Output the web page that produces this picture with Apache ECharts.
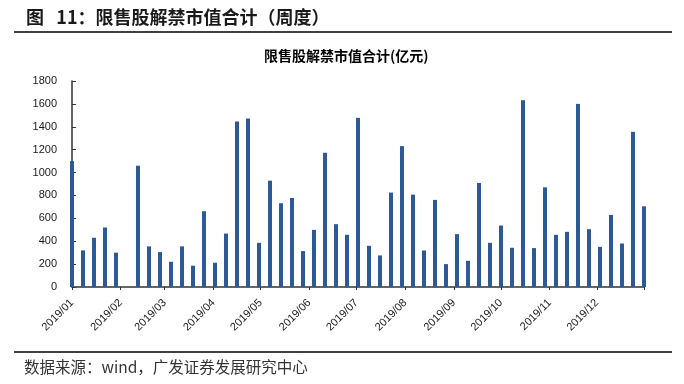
<!DOCTYPE html>
<html>
<head>
<meta charset="utf-8">
<script src="https://cdn.jsdelivr.net/npm/echarts@6/dist/echarts.min.js"></script>
<style>
html,body{margin:0;padding:0;background:#fff;}
#c{width:684px;height:384px;}
</style>
</head>
<body>
<div id="c"></div>
<script>
// Weekly dates (Tuesdays of 2019)
var weekDates = [
  '2019-01-01','2019-01-08','2019-01-15','2019-01-22','2019-01-29',
  '2019-02-05','2019-02-12','2019-02-19','2019-02-26',
  '2019-03-05','2019-03-12','2019-03-19','2019-03-26',
  '2019-04-02','2019-04-09','2019-04-16','2019-04-23','2019-04-30',
  '2019-05-07','2019-05-14','2019-05-21','2019-05-28',
  '2019-06-04','2019-06-11','2019-06-18','2019-06-25',
  '2019-07-02','2019-07-09','2019-07-16','2019-07-23','2019-07-30',
  '2019-08-06','2019-08-13','2019-08-20','2019-08-27',
  '2019-09-03','2019-09-10','2019-09-17','2019-09-24',
  '2019-10-01','2019-10-08','2019-10-15','2019-10-22','2019-10-29',
  '2019-11-05','2019-11-12','2019-11-19','2019-11-26',
  '2019-12-03','2019-12-10','2019-12-17','2019-12-24','2019-12-31'
];
// 限售股解禁市值合计 (亿元)
var unlockValues = [
  1100, 320, 430, 520, 300,
  0, 1060, 355, 305,
  220, 355, 186, 662,
  212, 467, 1446, 1472, 386,
  929, 732, 778, 314,
  499, 1173, 549, 456,
  1478, 360, 276, 825, 1231,
  807, 319, 761, 200,
  462, 229, 909, 386,
  537, 343, 1632, 340, 871,
  456, 482, 1600, 505,
  351, 630, 380, 1356, 705
];
// Month tick dates and labels
var monthTickDates = ['2019-01-01','2019-02-01','2019-03-01','2019-04-01','2019-05-01','2019-06-01',
  '2019-07-01','2019-08-01','2019-09-01','2019-10-01','2019-11-01','2019-12-01'];
var monthLabels = ['2019/01','2019/02','2019/03','2019/04','2019/05','2019/06',
  '2019/07','2019/08','2019/09','2019/10','2019/11','2019/12'];
var axisStart = '2019-01-01';
var axisEnd = '2019-12-31';
var yTicks = [0, 1800, 200]; // min, max, interval

function dayIndex(s) {
  var p = s.split('-');
  return Math.round((Date.UTC(+p[0], +p[1] - 1, +p[2]) - Date.UTC(2019, 0, 1)) / 86400000);
}
var seriesData = weekDates.map(function (d, i) { return [dayIndex(d), unlockValues[i]]; });
var monthTicks = monthTickDates.map(dayIndex);
var labelMap = {};
monthTicks.forEach(function (v, i) { labelMap[v] = monthLabels[i]; });

var chart = echarts.init(document.getElementById('c'), null, {renderer: 'canvas'});
var cjk = '"Noto Sans CJK SC", sans-serif';
var latin = '"Liberation Sans", Arial, sans-serif';
chart.setOption({
  animation: false,
  backgroundColor: '#ffffff',
  grid: {left: 72, right: 40, top: 81, bottom: 97, containLabel: false},
  graphic: [
    {type: 'text', left: 26, top: 8, style: {text: '图   11：限售股解禁市值合计（周度）', font: 'bold 18px ' + cjk, fill: '#1a1a1a'}},
    {type: 'line', shape: {x1: 14, y1: 32, x2: 672, y2: 32}, style: {stroke: '#000', lineWidth: 1.3}},
    {type: 'text', left: 264, top: 49, style: {text: '限售股解禁市值合计(亿元)', font: 'bold 14px ' + cjk, fill: '#000'}},
    {type: 'line', shape: {x1: 14, y1: 352, x2: 672, y2: 352}, style: {stroke: '#000', lineWidth: 1.3}},
    {type: 'text', left: 24, top: 359, style: {text: '数据来源：wind，广发证券发展研究中心', font: '15.5px ' + cjk, fill: '#333'}}
  ],
  xAxis: {
    type: 'value',
    min: dayIndex(axisStart),
    max: dayIndex(axisEnd),
    splitLine: {show: false},
    axisLine: {show: true, lineStyle: {color: '#333', width: 1.5}},
    axisTick: {show: true, length: 3, inside: false, customValues: monthTicks.concat([dayIndex(axisEnd)]), lineStyle: {color: '#333'}},
    axisLabel: {
      customValues: monthTicks,
      rotate: 45,
      margin: 14,
      color: '#1a1a1a',
      fontSize: 11,
      fontFamily: latin,
      formatter: function (v) { return labelMap[v] || ''; }
    }
  },
  yAxis: {
    type: 'value',
    min: yTicks[0],
    max: yTicks[1],
    interval: yTicks[2],
    splitLine: {show: false},
    axisLine: {show: true, lineStyle: {color: '#333', width: 1.5}},
    axisTick: {show: true, inside: true, length: 4, lineStyle: {color: '#333'}},
    axisLabel: {color: '#1a1a1a', fontSize: 11, margin: 15, fontFamily: latin,
      formatter: function (v) { return String(v); }}
  },
  series: [{
    type: 'bar',
    data: seriesData,
    barWidth: 4,
    clip: false,
    itemStyle: {color: '#2D5A97'}
  }]
});
</script>
</body>
</html>
